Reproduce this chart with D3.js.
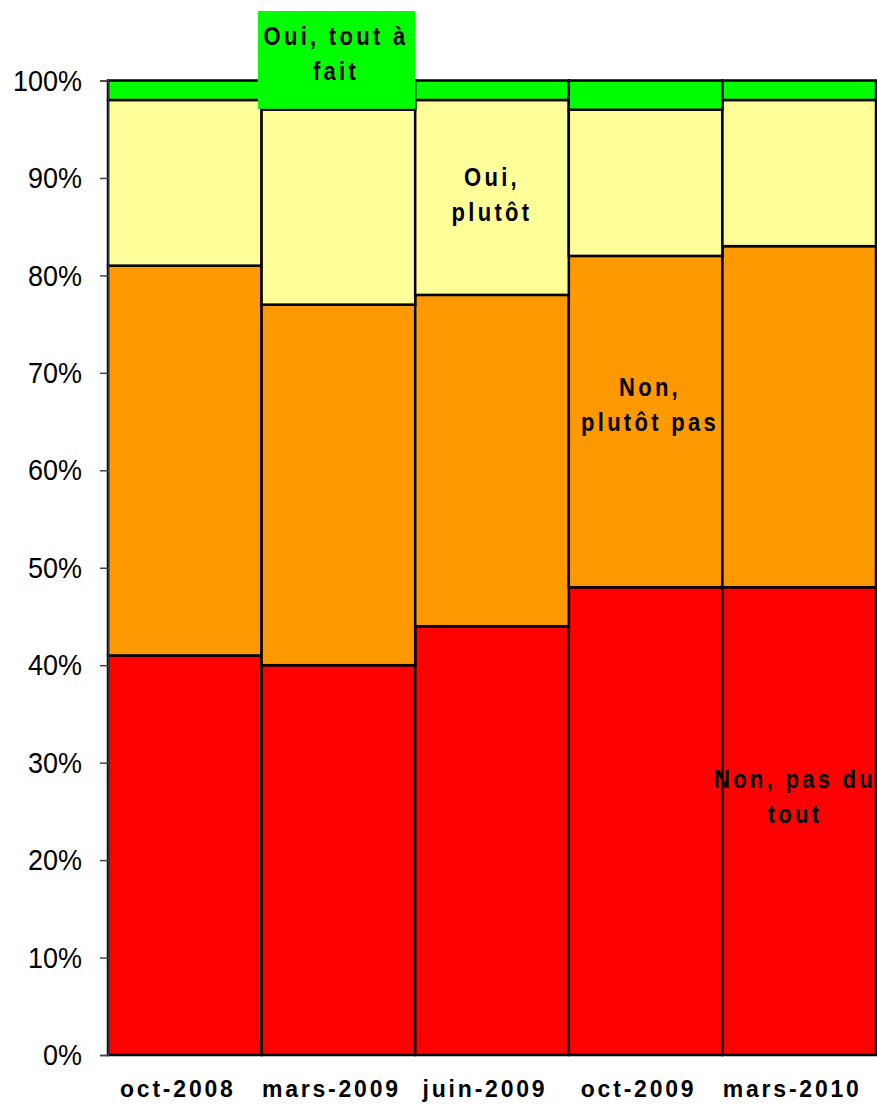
<!DOCTYPE html>
<html>
<head>
<meta charset="utf-8">
<script src="https://cdn.jsdelivr.net/npm/d3@7"></script>
<style>
  body { margin: 0; background: #fff; }
  svg text { font-family: "Liberation Sans", Arial, sans-serif; }
</style>
</head>
<body>
<svg id="chart" width="877" height="1104"></svg>
<script>
// categories + series (percent, bottom to top)
const periods = ["oct-2008", "mars-2009", "juin-2009", "oct-2009", "mars-2010"];
const nonPasDuTout = [41, 40, 44, 48, 48];
const nonPlutotPas = [40, 37, 34, 34, 35];
const ouiPlutot = [17, 20, 20, 15, 15];
const ouiToutAFait = [2, 3, 2, 3, 2];
const seriesNames = ["Non, pas du tout", "Non, plutôt pas", "Oui, plutôt", "Oui, tout à fait"];
const seriesColors = ["#ff0000", "#ff9900", "#ffff99", "#00ff00"];
const yTicks = [0, 10, 20, 30, 40, 50, 60, 70, 80, 90, 100];

const rows = periods.map((p, i) => ({
  period: p,
  "Non, pas du tout": nonPasDuTout[i],
  "Non, plutôt pas": nonPlutotPas[i],
  "Oui, plutôt": ouiPlutot[i],
  "Oui, tout à fait": ouiToutAFait[i]
}));

const svg = d3.select("#chart");
const plotLeft = 108, plotRight = 876, plotTop = 80.5, plotBottom = 1055;

const x = d3.scaleBand().domain(periods).range([plotLeft, plotRight]).padding(0);
const y = d3.scaleLinear().domain([0, 100]).range([plotBottom, plotTop]);
const color = d3.scaleOrdinal().domain(seriesNames).range(seriesColors);

const stacked = d3.stack().keys(seriesNames)(rows);

// bars
svg.append("g").selectAll("g")
  .data(stacked)
  .join("g")
  .attr("fill", d => color(d.key))
  .selectAll("rect")
  .data(d => d)
  .join("rect")
  .attr("x", d => x(d.data.period))
  .attr("y", d => y(d[1]))
  .attr("width", x.bandwidth())
  .attr("height", d => y(d[0]) - y(d[1]))
  .attr("stroke", "#000")
  .attr("stroke-width", 2.5);

// y axis
const yAxis = svg.append("g")
  .attr("transform", `translate(${plotLeft},0)`)
  .call(d3.axisLeft(y).tickValues(yTicks).tickFormat(d => d + "%").tickSize(8).tickPadding(18));
yAxis.select(".domain").attr("stroke", "#333").attr("stroke-width", 1.5);
yAxis.selectAll(".tick line").attr("stroke", "#444").attr("stroke-width", 1.5);
yAxis.selectAll(".tick text")
  .attr("font-size", 27)
  .attr("fill", "#000")
  .attr("font-family", "Liberation Sans, Arial, sans-serif")
  .attr("transform", "scale(1,1.12)");

// x labels
svg.append("g").selectAll("text")
  .data(periods)
  .join("text")
  .attr("transform", d => `translate(${x(d) + x.bandwidth() / 2 - 7},1097) scale(1,1.08)`)
  .attr("text-anchor", "middle")
  .attr("font-size", 23)
  .attr("font-weight", "bold")
  .attr("letter-spacing", 2.8)
  .text(d => d);

// data labels, one per series
const labels = [
  { lines: ["Oui, tout à", "fait"], cx: 336, y0: 45 },
  { lines: ["Oui,", "plutôt"], cx: 492, y0: 186 },
  { lines: ["Non,", "plutôt pas"], cx: 650, y0: 396 },
  { lines: ["Non, pas du", "tout"], cx: 795, y0: 788 }
];

// green box behind the top label
svg.append("rect")
  .attr("x", 258).attr("y", 11)
  .attr("width", x("juin-2009") - 258)
  .attr("height", y(100 - ouiToutAFait[1]) - 11 - 1)
  .attr("fill", color("Oui, tout à fait"));

const lab = svg.append("g");
labels.forEach(l => {
  l.lines.forEach((t, k) => {
    lab.append("text")
      .attr("transform", `translate(${l.cx},${l.y0 + k * 35}) scale(1,1.2)`)
      .attr("text-anchor", "middle")
      .attr("font-size", 22)
      .attr("font-weight", "bold")
      .attr("letter-spacing", 3.3)
      .text(t);
  });
});
</script>
</body>
</html>
